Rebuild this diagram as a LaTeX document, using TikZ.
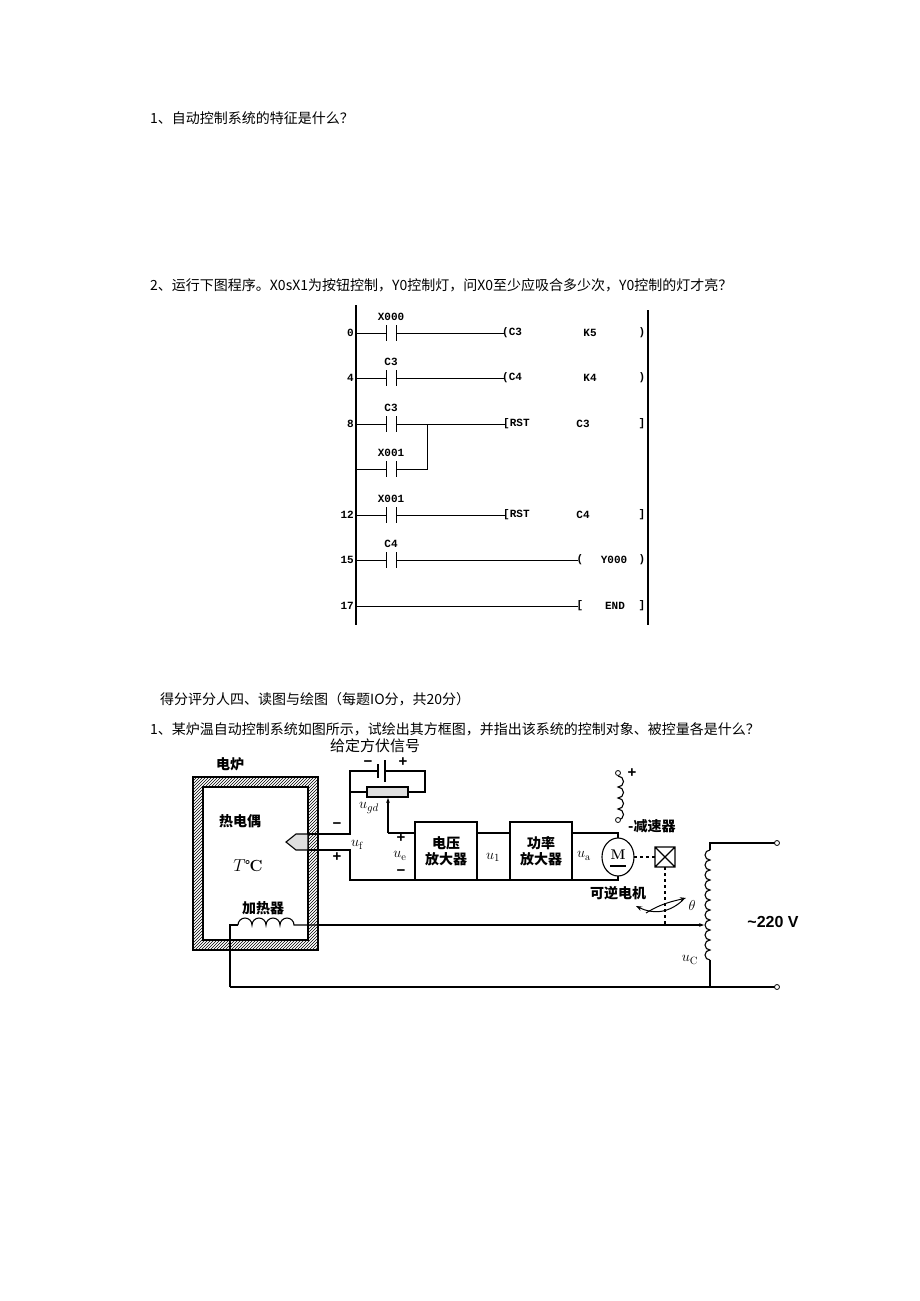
\documentclass[tikz,border=0pt]{standalone}
\usepackage{fontspec}
\newfontfamily\cjk{Noto Sans CJK SC}
\newfontfamily\lsans{Liberation Sans}
\newfontfamily\lmono{Liberation Mono}
\usetikzlibrary{patterns,arrows.meta}
\begin{document}
\begin{tikzpicture}[x=1pt,y=-1pt,
  body/.style={anchor=west,inner sep=0pt,font=\cjk\fontsize{14}{16}\selectfont},
  lad/.style={inner sep=0pt,font=\lmono\bfseries\fontsize{11}{12}\selectfont},
  wire/.style={line width=1.1pt},
  ckt/.style={inner sep=0pt,font=\cjk\bfseries\fontsize{14}{16}\selectfont},
  lbl/.style={inner sep=0pt,font=\fontsize{15}{16}\selectfont},
  sgn/.style={inner sep=0pt,font=\lsans\bfseries\fontsize{15}{15}\selectfont},
  blk/.style={draw,line width=1.1pt,minimum width=62pt,minimum height=58pt,align=center,font=\cjk\bfseries\fontsize{14}{16}\selectfont,inner sep=1pt}]
\useasboundingbox (0,0) rectangle (920,1301);
\fill[white] (0,0) rectangle (920,1301);
% texts
\node[body] (q1) at (150,118) {1、自动控制系统的特征是什么？};
\node[body] (q2) at (150,285) {2、运行下图程序。X0sX1为按钮控制，Y0控制灯，问X0至少应吸合多少次，Y0控制的灯才亮？};
\node[body] (q3) at (160,699) {得分评分人四、读图与绘图（每题IO分，共20分）};
\node[body] (q4) at (150,729) {1、某炉温自动控制系统如图所示，试绘出其方框图，并指出该系统的控制对象、被控量各是什么？};
% ladder
\draw[line width=1.6pt] (356,305) -- (356,625);
\draw[line width=1.6pt] (648,310) -- (648,625);
\foreach \y/\n/\c in {333/0/X000,378/4/C3,424/8/C3,469//X001,515/12/X001,560/15/C4}{
  \node[lad,anchor=east] at (354,\y) {\n};
  \draw[line width=0.8pt] (386,\y-8) -- (386,\y+8) (396,\y-8) -- (396,\y+8);
  \node[lad] at (391,\y-16) {\c};
  \draw[line width=0.8pt] (356,\y) -- (386,\y);
}
\draw[line width=0.8pt] (396,333) -- (505,333) (396,378) -- (505,378) (396,424) -- (506,424)
  (396,469) -- (427,469) -- (427,424) (396,515) -- (506,515) (396,560) -- (578,560) (356,606) -- (578,606);
\foreach \y/\a/\b in {333/C3/K5,378/C4/K4}{
  \node[lad,anchor=west] at (502,\y) {(\a};
  \node[lad] at (590,\y) {\b};
  \node[lad] at (642,\y) {)};
}
\foreach \y/\b in {424/C3,515/C4}{
  \node[lad,anchor=west] at (503,\y) {[RST};
  \node[lad] at (583,\y) {\b};
  \node[lad] at (642,\y) {]};
}
\node[lad] at (580,560) {(}; \node[lad] at (614,560) {Y000}; \node[lad] at (642,560) {)};
\node[lad] at (580,606) {[}; \node[lad] at (615,606) {END}; \node[lad] at (642,606) {]};
\node[lad,anchor=east] (n17) at (354,606) {17};
% furnace
\fill[pattern=north east lines,even odd rule] (193,777) rectangle (318,950) (203,787) rectangle (308,940);
\draw[wire] (193,777) rectangle (318,950) (203,787) rectangle (308,940);
\node[ckt] (lu) at (230,764) {电炉};
\node[ckt] (rdo) at (240,821) {热电偶};
\node[inner sep=0pt,font=\bfseries\fontsize{16}{16}\selectfont] (tc) at (248,866) {$T$℃};
\node[ckt] (jrq) at (263,908) {加热器};
\draw[wire,fill=gray!25] (286,842) -- (296,834) -- (308,834) -- (308,850) -- (296,850) -- cycle;
% wires left part
\draw[wire] (308,834) -- (350,834) -- (350,771) -- (378,771) (385,771) -- (425,771) -- (425,792) -- (408,792);
\draw[wire] (350,792) -- (367,792);
\draw[wire] (378,764) -- (378,778) (385,760) -- (385,782);
\draw[wire,fill=gray!25] (367,787) rectangle (408,797);
\draw[wire,-{Stealth[length=5pt]}] (388,833) -- (388,798);
\draw[wire] (388,833) -- (415,833);
\draw[wire] (308,850) -- (350,850) -- (350,880) -- (415,880);
\node[sgn] at (368,764) {−};
\node[sgn] at (403,762) {+};
\node[inner sep=0pt,font=\cjk\fontsize{15}{17}\selectfont] (gd) at (375,746) {给定方伏信号};
\node[lbl] at (369,808) {$u_{gd}$};
\node[sgn] at (337,826) {−};
\node[sgn] at (337,857) {+};
\node[lbl] at (357,845) {$u_{\rm f}$};
\node[sgn] at (401,838) {+};
\node[lbl] at (400,856) {$u_{\rm e}$};
\node[sgn] at (401,873) {−};
\node[blk] (a1) at (446,851) {电压\\放大器};
\node[blk] (a2) at (541,851) {功率\\放大器};
\draw[wire] (a1.east |- 0,833) -- (a2.west |- 0,833) (a1.east |- 0,880) -- (a2.west |- 0,880);
\node[lbl] at (493,857) {$u_1$};
\node[lbl] at (584,856) {$u_{\rm a}$};
\draw[wire] (572,833) -- (618,833) -- (618,838) (572,880) -- (618,880) -- (618,876);
\draw[wire] (618,857) ellipse (16pt and 19pt);
\node[inner sep=0pt,font=\bfseries\fontsize{14}{14}\selectfont] (m) at (618,855) {M};
\draw[wire] (610,866) -- (626,866);
\draw[wire,dashed] (634,857) -- (655,857);
\draw[wire] (655,847) rectangle (675,867) (655,847) -- (675,867) (655,867) -- (675,847);
\draw[wire,dashed] (665,867) -- (665,925);
\node[ckt] at (618,893) {可逆电机};
\draw[line width=1pt,-{Stealth[length=6pt]}] (683,900) .. controls (668,914) and (652,914) .. (636,906);
\draw[line width=1pt,-{Stealth[length=6pt]}] (646,913) .. controls (662,903) and (674,901) .. (686,898);
\node[lbl] at (692,905) {$\theta$};
% field winding
\draw[wire] (618,776) arc[start angle=90,end angle=-90,radius=5.5pt] arc[start angle=90,end angle=-90,radius=5.5pt] arc[start angle=90,end angle=-90,radius=5.5pt] arc[start angle=90,end angle=-90,radius=5.5pt];
\draw[line width=0.8pt,fill=white] (618,773) circle (2.5pt) (618,820) circle (2.5pt);
\node[sgn] at (632,773) {+};
\node[ckt,anchor=west] at (628,826) {-减速器};
% transformer
\draw[wire] (775,843) -- (710,843) -- (710,850);
\draw[wire] (710,850) \foreach \i in {1,...,11}{ arc[start angle=90,end angle=270,radius=5pt]};
\draw[wire] (710,960) -- (710,987);
\draw[wire] (230,987) -- (775,987);
\draw[line width=0.8pt,fill=white] (777,843) circle (2.5pt) (777,987) circle (2.5pt);
\node[inner sep=0pt,font=\lsans\bfseries\fontsize{16}{16}\selectfont] at (773,922) {\textasciitilde 220 V};
\node[lbl] at (690,960) {$u_{\rm C}$};
% heater
\draw[wire] (230,987) -- (230,925) -- (238,925);
\draw[wire] (238,925) arc[start angle=180,end angle=0,radius=7pt] arc[start angle=180,end angle=0,radius=7pt] arc[start angle=180,end angle=0,radius=7pt] arc[start angle=180,end angle=0,radius=7pt] -- (318,925);
\draw[wire,-{Stealth[length=5pt]}] (318,925) -- (704,925);
\end{tikzpicture}
\end{document}
